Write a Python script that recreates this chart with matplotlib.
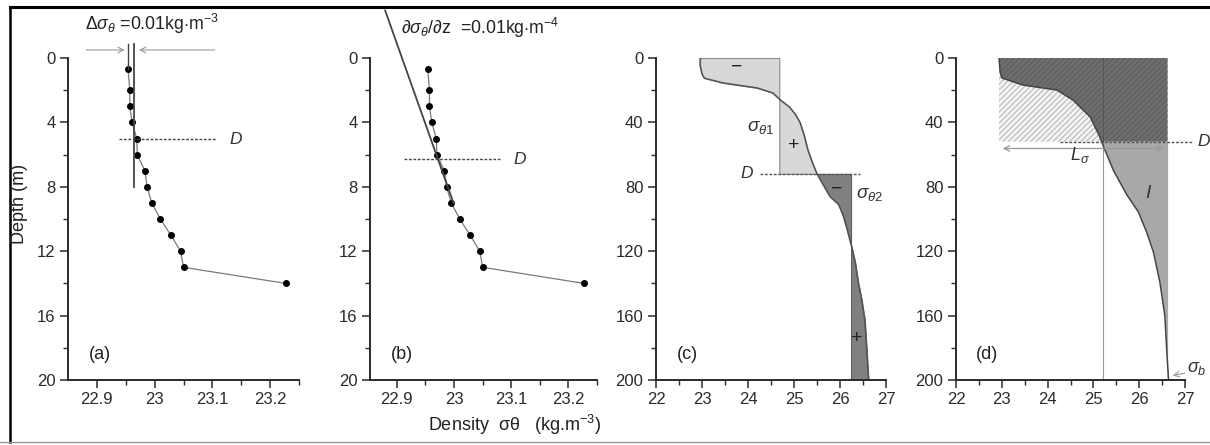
import numpy as np
import matplotlib
matplotlib.use('Agg')
import matplotlib.pyplot as plt
from matplotlib.lines import Line2D

plt.rcParams['font.family'] = ['Liberation Sans', 'DejaVu Sans']
plt.rcParams['mathtext.fontset'] = 'custom'
plt.rcParams['mathtext.rm'] = 'Liberation Sans'
plt.rcParams['mathtext.it'] = 'Liberation Sans:italic'
plt.rcParams['hatch.linewidth'] = 0.8

# --- datos ---
# perfil fino, paneles (a) y (b)
prof_z = [0.7, 2, 3, 4, 5, 6, 7, 8, 9, 10, 11, 12, 13, 14]
prof_sigma = [22.954, 22.957, 22.957, 22.961, 22.969, 22.970, 22.983,
              22.987, 22.995, 23.010, 23.028, 23.045, 23.050, 23.227]

# perfil profundo, panel (c)
c_z = [0, 5, 10, 12.5, 15.5, 18.6, 21.7, 26, 30.4, 35, 40, 48, 57, 65,
       72, 79, 86, 91, 98, 106, 117, 127, 140, 150, 163, 181, 200]
c_sigma = [22.96, 22.96, 23.0, 23.05, 23.46, 24.2, 24.54, 24.7, 24.9, 25.03,
           25.13, 25.22, 25.3, 25.4, 25.5, 25.64, 25.78, 25.97, 26.07, 26.15,
           26.25, 26.33, 26.40, 26.47, 26.54, 26.58, 26.62]

# perfil profundo, panel (d)
d_z = [0, 8, 12.4, 16.8, 19.9, 26, 36.6, 49, 57, 70, 85, 95.5, 108, 120.5,
       139, 160, 181, 200]
d_sigma = [22.94, 22.96, 23.0, 23.46, 24.2, 24.55, 24.93, 25.14, 25.25,
           25.44, 25.73, 25.98, 26.16, 26.31, 26.45, 26.56, 26.60, 26.64]

D_a = 5.05
D_b = 6.3
D_c = 72
D_d = 52
sigma_ref_a = 22.954
delta_sigma = 0.01
grad_b = 0.01
sigma_t1 = 24.68
sigma_t2 = 26.24
sigma_b = 26.62
sigma_L = 25.22

ticks_ab = [22.9, 23, 23.1, 23.2]
ticklab_ab = ['22.9', '23', '23.1', '23.2']
ticks_cd = [22, 23, 24, 25, 26, 27]
ticklab_cd = ['22', '23', '24', '25', '26', '27']

fig = plt.figure(figsize=(12.1, 4.45), dpi=100)
W, H = 1210, 445


def make_ax(left_px, right_px):
    ax = fig.add_axes([left_px / W, 1 - 380 / H, (right_px - left_px) / W, 322 / H])
    ax.spines['top'].set_visible(False)
    ax.spines['right'].set_visible(False)
    for s in ('left', 'bottom'):
        ax.spines[s].set_linewidth(1.4)
        ax.spines[s].set_color('#2a2a2a')
    ax.tick_params(which='major', direction='out', length=6, width=1.1,
                   labelsize=12, colors='#2a2a2a', pad=3)
    ax.tick_params(which='minor', direction='out', length=3.5, width=1.0,
                   colors='#2a2a2a')
    return ax


gray_line = '#7a7a7a'

# ---------- (a) ----------
ax = make_ax(68, 299)
ax.set_xlim(22.85, 23.25)
ax.set_ylim(20, 0)
ax.set_xticks(ticks_ab, ticklab_ab)
ax.set_xticks([22.95, 23.05, 23.15, 23.25], minor=True)
ax.set_yticks([0, 4, 8, 12, 16, 20])
ax.set_yticks([2, 6, 10, 14, 18], minor=True)
ax.plot(prof_sigma, prof_z, color=gray_line, lw=0.9)
ax.plot(prof_sigma, prof_z, 'o', color='black', ms=4)
ax.plot([sigma_ref_a, sigma_ref_a], [-0.9, prof_z[0]], color='#444', lw=1.0, clip_on=False)
ax.plot([sigma_ref_a + delta_sigma] * 2, [-0.9, 8], color='#444', lw=1.3, clip_on=False)
ax.annotate('', xy=(sigma_ref_a - 0.001, -0.5), xytext=(22.877, -0.5),
            arrowprops=dict(arrowstyle='->', color='#999', lw=0.8), annotation_clip=False)
ax.annotate('', xy=(sigma_ref_a + delta_sigma + 0.004, -0.5), xytext=(23.109, -0.5),
            arrowprops=dict(arrowstyle='->', color='#999', lw=0.8), annotation_clip=False)
ax.plot([22.938, 23.106], [D_a, D_a], ls=(0, (2, 1.2)), color='#444', lw=1.0)
ax.text(23.13, D_a, 'D', style='italic', fontsize=12.5, va='center', color='#333')
ax.text(22.995, -2.1, r'$\Delta\sigma_\theta$ =0.01kg$\cdot$m$^{-3}$', fontsize=12.8,
        ha='center', va='center', color='#222', clip_on=False)
ax.text(22.906, 18.4, '(a)', fontsize=13, ha='center', va='center', color='#222')

# ---------- (b) ----------
ax = make_ax(370, 597)
ax.set_xlim(22.853, 23.25)
ax.set_ylim(20, 0)
ax.set_xticks(ticks_ab, ticklab_ab)
ax.set_xticks([22.95, 23.05, 23.15, 23.25], minor=True)
ax.set_yticks([0, 4, 8, 12, 16, 20])
ax.set_yticks([2, 6, 10, 14, 18], minor=True)
ax.plot(prof_sigma, prof_z, color=gray_line, lw=0.9)
ax.plot(prof_sigma, prof_z, 'o', color='black', ms=4)
z_line = np.array([-2.95, 9.0])
ax.plot(22.972 + grad_b * (z_line - D_b), z_line, color='#444', lw=1.3, clip_on=False)
ax.plot([22.913, 23.081], [D_b, D_b], ls=(0, (2, 1.2)), color='#444', lw=1.0)
ax.text(23.104, D_b, 'D', style='italic', fontsize=12.5, va='center', color='#333')
ax.text(22.908, -1.85, r'$\partial\sigma_\theta/\partial$z  =0.01kg$\cdot$m$^{-4}$', fontsize=12.8,
        ha='left', va='center', color='#222', clip_on=False)
ax.text(22.909, 18.4, '(b)', fontsize=13, ha='center', va='center', color='#222')

# ---------- (c) ----------
ax = make_ax(656, 886)
ax.set_xlim(22, 27)
ax.set_ylim(200, 0)
ax.set_xticks(ticks_cd, ticklab_cd)
ax.set_xticks([22.5, 23.5, 24.5, 25.5, 26.5], minor=True)
ax.set_yticks([0, 40, 80, 120, 160, 200])
ax.set_yticks([20, 60, 100, 140, 180], minor=True)
cz = np.array(c_z, dtype=float)
cs = np.array(c_sigma)
up = cz <= D_c
lo = cz >= D_c
ax.fill_betweenx(cz[up], cs[up], sigma_t1, facecolor='#d8d8d8', edgecolor='#8a8a8a', lw=0.8)
ax.fill_betweenx(cz[lo], cs[lo], sigma_t2, facecolor='#808080', edgecolor='#606060', lw=0.8)
ax.plot(cs, cz, color='#555', lw=1.1)
ax.plot([24.26, 26.44], [D_c, D_c], ls=(0, (2, 1.2)), color='#555', lw=1.0)
ax.text(23.98, D_c, 'D', style='italic', fontsize=12.5, ha='center', va='center', color='#333')
ax.text(24.27, 43, r'$\sigma_{\theta 1}$', fontsize=13.5, ha='center', va='center', color='#333')
ax.text(26.65, 85, r'$\sigma_{\theta 2}$', fontsize=13.5, ha='center', va='center', color='#333')
ax.text(23.76, 5.6, '−', fontsize=14, ha='center', va='center', color='#222')
ax.text(24.99, 54.5, '+', fontsize=14, ha='center', va='center', color='#222')
ax.text(25.93, 81.5, '−', fontsize=14, ha='center', va='center', color='#222')
ax.text(26.36, 174, '+', fontsize=14, ha='center', va='center', color='#222')
ax.text(22.69, 184, '(c)', fontsize=13, ha='center', va='center', color='#222')

# ---------- (d) ----------
ax = make_ax(956, 1185)
ax.set_xlim(22, 27)
ax.set_ylim(200, 0)
ax.set_xticks(ticks_cd, ticklab_cd)
ax.set_xticks([22.5, 23.5, 24.5, 25.5, 26.5], minor=True)
ax.set_yticks([0, 40, 80, 120, 160, 200])
ax.set_yticks([20, 60, 100, 140, 180], minor=True)
dz = np.array(d_z, dtype=float)
ds = np.array(d_sigma)
sD = np.interp(D_d, dz, ds)
z_up = np.append(dz[dz < D_d], D_d)
s_up = np.append(ds[dz < D_d], sD)
z_lo = np.insert(dz[dz > D_d], 0, D_d)
s_lo = np.insert(ds[dz > D_d], 0, sD)
ax.fill_betweenx(z_up, ds[0], s_up, facecolor='#f4f4f4', edgecolor='#b8b8b8',
                 hatch='//////', lw=0)
ax.fill_betweenx(z_up, s_up, sigma_b, facecolor='#6e6e6e', edgecolor='#5e5e5e',
                 hatch='//////', lw=0)
ax.fill_betweenx(z_lo, s_lo, sigma_b, facecolor='#a8a8a8', edgecolor='#a8a8a8', lw=0)
ax.plot([sigma_L, sigma_L], [0, 200], color='#999', lw=0.8)
ax.plot([sigma_L, sigma_L], [0, D_d], color='#555', lw=0.8)
ax.plot(ds, dz, color='#444', lw=1.1)
ax.plot([24.27, 27.18], [D_d, D_d], ls=(0, (2, 1.2)), color='#555', lw=1.0, clip_on=False)
ax.text(27.4, D_d, 'D', style='italic', fontsize=12.5, ha='center', va='center',
        color='#333', clip_on=False)
ax.annotate('', xy=(ds[0] + 0.02, 56.2), xytext=(sigma_b - 0.02, 56.2),
            arrowprops=dict(arrowstyle='<->', color='#999', lw=0.9))
ax.text(24.71, 60.5, r'$L_\sigma$', fontsize=13, ha='center', va='center', color='#333')
ax.text(26.2, 84, r'$I$', fontsize=14, ha='center', va='center', color='#333',
        family='DejaVu Serif')
ax.annotate('', xy=(sigma_b + 0.05, 197.5), xytext=(27.05, 195.5),
            arrowprops=dict(arrowstyle='->', color='#999', lw=0.8), annotation_clip=False)
ax.text(27.25, 193, r'$\sigma_b$', fontsize=13, ha='center', va='center',
        color='#333', clip_on=False)
ax.text(22.68, 184, '(d)', fontsize=13, ha='center', va='center', color='#222')

# ---------- etiquetas y marco ----------
fig.text(20 / W, 1 - 204 / H, 'Depth (m)', rotation=90, ha='center', va='center',
         fontsize=13, color='#222')
fig.text(428 / W, 1 - 425 / H, 'Density  σθ   (kg.m$^{-3}$)', ha='left', va='center',
         fontsize=13, color='#222')
fig.add_artist(Line2D([10 / W, 1], [1 - 6.5 / H] * 2, color='black', lw=2.2))
fig.add_artist(Line2D([10 / W] * 2, [1 - 442 / H, 1 - 6.5 / H], color='black', lw=1.8))
fig.add_artist(Line2D([0, 1], [1 - 442 / H] * 2, color='#999', lw=1.0))

fig.savefig('out.png', dpi=100)
